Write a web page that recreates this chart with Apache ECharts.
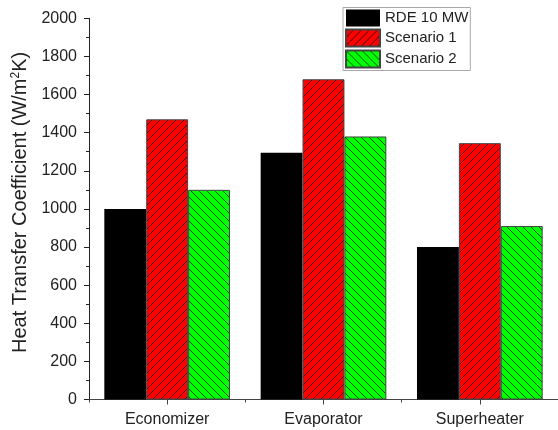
<!DOCTYPE html>
<html>
<head>
<meta charset="utf-8">
<script src="https://cdn.jsdelivr.net/npm/echarts@6/dist/echarts.min.js"></script>
<style>
html,body{margin:0;padding:0;background:#fff;}
#chart{width:558px;height:430px;}
</style>
</head>
<body>
<div id="chart"></div>
<script>
const categories = ['Economizer', 'Evaporator', 'Superheater'];
const seriesNames = ['RDE 10 MW', 'Scenario 1', 'Scenario 2'];
const rdeValues = [1000, 1295, 800];
const scenario1Values = [1470, 1680, 1345];
const scenario2Values = [1100, 1380, 910];
const yTicks = [0, 200, 400, 600, 800, 1000, 1200, 1400, 1600, 1800, 2000];

const FONT = '"Liberation Sans", Arial, sans-serif';

function hatch(bg, dir, size) {
  const c = document.createElement('canvas');
  c.width = size; c.height = size;
  const g = c.getContext('2d');
  g.fillStyle = bg;
  g.fillRect(0, 0, size, size);
  g.strokeStyle = 'rgba(0,0,0,0.7)';
  g.lineWidth = 1;
  g.beginPath();
  if (dir === '/') {
    g.moveTo(-1, size + 1); g.lineTo(size + 1, -1);
    g.moveTo(-1, 1); g.lineTo(1, -1);
    g.moveTo(size - 1, size + 1); g.lineTo(size + 1, size - 1);
  } else {
    g.moveTo(-1, -1); g.lineTo(size + 1, size + 1);
    g.moveTo(size - 1, -1); g.lineTo(size + 1, 1);
    g.moveTo(-1, size - 1); g.lineTo(1, size + 1);
  }
  g.stroke();
  return c;
}

const redPattern = { image: hatch('#ff0000', '/', 8), repeat: 'repeat' };
const greenPattern = { image: hatch('#00ff00', '\\', 8), repeat: 'repeat' };

const chart = echarts.init(document.getElementById('chart'), null, { renderer: 'canvas' });

const option = {
  backgroundColor: '#fff',
  animation: false,
  textStyle: { fontFamily: FONT },
  legend: {
    orient: 'vertical',
    left: 343,
    top: 7.5,
    padding: 2,
    itemGap: 2,
    itemWidth: 34,
    itemHeight: 17,
    borderColor: '#aaa',
    borderWidth: 1,
    icon: 'rect',
    textStyle: { fontSize: 15, color: '#222', fontFamily: FONT },
    data: seriesNames
  },
  grid: { left: 89, top: 18.3, width: 474, height: 381.2, containLabel: false },
  xAxis: [
    {
      type: 'category',
      data: categories,
      axisLine: { lineStyle: { color: '#444', width: 1 } },
      axisTick: { show: true, alignWithLabel: true, length: 5, lineStyle: { color: '#444' } },
      axisLabel: { fontSize: 16, color: '#222', margin: 12, fontFamily: FONT },
      splitLine: { show: false }
    },
    {
      type: 'category',
      data: categories,
      position: 'bottom',
      axisLine: { show: false },
      axisTick: { show: true, length: 3, lineStyle: { color: '#444' } },
      axisLabel: { show: false },
      splitLine: { show: false }
    }
  ],
  yAxis: {
    type: 'value',
    min: yTicks[0],
    max: yTicks[yTicks.length - 1],
    interval: 200,
    axisLine: { show: true, lineStyle: { color: '#222', width: 1 } },
    axisTick: { show: true, length: 5, lineStyle: { color: '#222' } },
    minorTick: { show: true, splitNumber: 2, length: 3, lineStyle: { color: '#222' } },
    splitLine: { show: false },
    axisLabel: { fontSize: 16, color: '#222', margin: 12, fontFamily: FONT, formatter: function (v) { return String(v); } },
    name: 'Heat Transfer Coefficient (W/m{sup|2}K)',
    nameLocation: 'middle',
    nameGap: 59,
    nameTextStyle: {
      fontSize: 20, color: '#222', fontFamily: FONT,
      padding: [0, 0, 0, 13],
      rich: { sup: { fontSize: 12, verticalAlign: 'top', color: '#222', fontFamily: FONT, padding: [0, 0, 8, 0] } }
    }
  },
  series: [
    {
      name: seriesNames[0], type: 'bar', data: rdeValues,
      barGap: '0%', barCategoryGap: '19.6%',
      itemStyle: { color: '#000', borderColor: '#000', borderWidth: 0 }
    },
    {
      name: seriesNames[1], type: 'bar', data: scenario1Values,
      barGap: '0%', barCategoryGap: '19.6%',
      itemStyle: { color: redPattern, borderColor: '#444', borderWidth: 1 }
    },
    {
      name: seriesNames[2], type: 'bar', data: scenario2Values,
      barGap: '0%', barCategoryGap: '19.6%',
      itemStyle: { color: greenPattern, borderColor: '#444', borderWidth: 1 }
    }
  ]
};
chart.setOption(option);
</script>
</body>
</html>
